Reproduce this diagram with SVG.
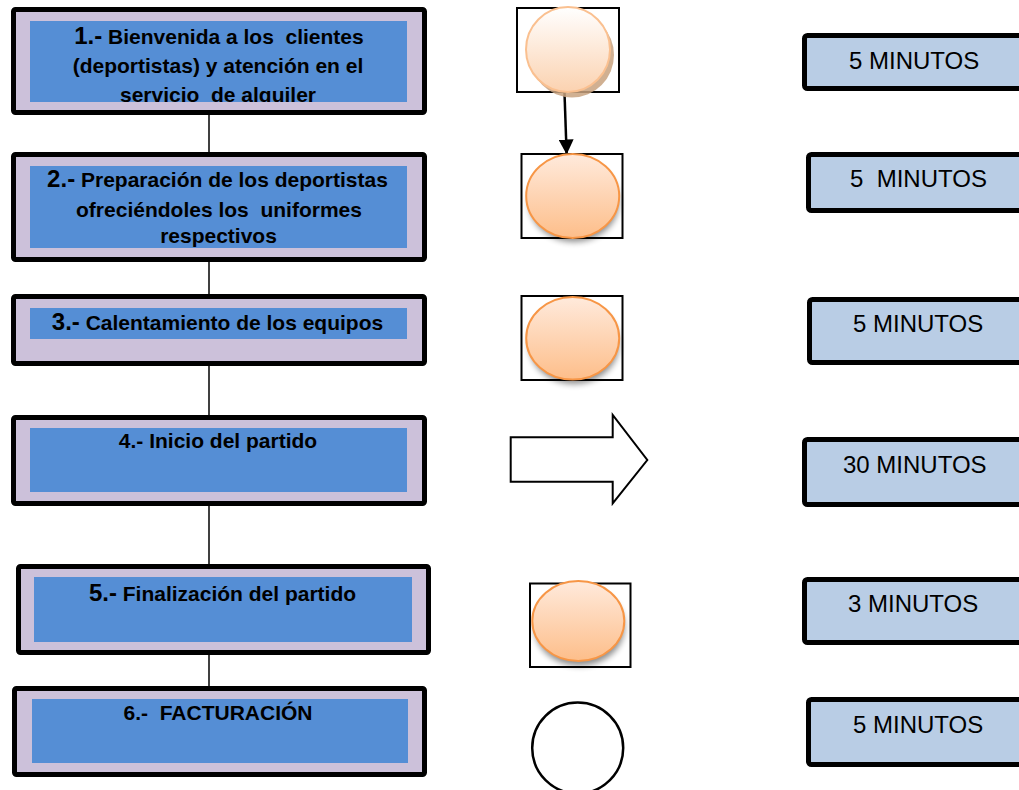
<svg xmlns="http://www.w3.org/2000/svg" width="1019" height="790" viewBox="0 0 1019 790">
  <style>
    text { white-space: pre; }
    .outer { fill: #CCC1DA; stroke: #000; stroke-width: 5; }
    .inner { fill: #558ED5; }
    .step { font-family: "Liberation Sans", Arial, sans-serif; font-weight: bold; font-size: 21px; fill: #000; text-anchor: middle; }
    .num { font-size: 24px; }
    .time-box { fill: #B9CDE5; stroke: #000; stroke-width: 5; }
    .time { font-family: "Liberation Sans", Arial, sans-serif; font-size: 24px; fill: #000; }
    .frame { fill: none; stroke: #000; stroke-width: 2; }
    .op { fill: url(#peach); stroke: #F79646; stroke-width: 2; }
    .link { stroke: #000; stroke-width: 1.5; fill: none; }
  </style>
  <defs>
    <linearGradient id="peach" x1="0" y1="0" x2="0" y2="1">
      <stop offset="0" stop-color="#FFEADC"/>
      <stop offset="1" stop-color="#FDBE8A"/>
    </linearGradient>
    <linearGradient id="pale" x1="0" y1="0" x2="0" y2="1">
      <stop offset="0" stop-color="#FFFFFF"/>
      <stop offset="1" stop-color="#FBD2B0"/>
    </linearGradient>
    <filter id="soft" x="-30%" y="-30%" width="160%" height="170%">
      <feGaussianBlur stdDeviation="3"/>
    </filter>
    <marker id="head" viewBox="0 0 10 10" refX="9" refY="5" markerWidth="6" markerHeight="6" orient="auto" markerUnits="strokeWidth">
      <path d="M0,0 L10,5 L0,10 Z" fill="#000"/>
    </marker>
    <clipPath id="clip1">
      <rect x="30" y="21" width="377" height="81"/>
    </clipPath>
  </defs>

  <!-- vertical links between the steps -->
  <g id="connectors">
    <line class="link" x1="209" y1="115" x2="209" y2="152"/>
    <line class="link" x1="209" y1="262" x2="209" y2="294"/>
    <line class="link" x1="209" y1="366" x2="209" y2="415"/>
    <line class="link" x1="209" y1="506" x2="209" y2="564"/>
    <line class="link" x1="209" y1="655" x2="209" y2="686"/>
    <line x1="564.5" y1="93" x2="566.6" y2="153" stroke="#000" stroke-width="2.5" marker-end="url(#head)"/>
  </g>

  <!-- process steps -->
  <g id="step1">
    <rect class="outer" x="13.5" y="9.5" width="411" height="103" rx="2"/>
    <rect class="inner" x="30" y="21" width="377" height="81"/>
    <g clip-path="url(#clip1)">
      <text class="step" x="219" y="44"><tspan class="num">1.-</tspan> Bienvenida a los  clientes</text>
      <text class="step" x="218" y="73">(deportistas) y atención en el</text>
      <text class="step" x="218" y="102">servicio  de alquiler</text>
    </g>
  </g>
  <g id="step2">
    <rect class="outer" x="13.5" y="154.5" width="411" height="105" rx="2"/>
    <rect class="inner" x="30" y="166" width="377" height="82"/>
    <text class="step" x="217.5" y="187"><tspan class="num">2.-</tspan> Preparación de los deportistas</text>
    <text class="step" x="219" y="217">ofreciéndoles los  uniformes</text>
    <text class="step" x="218.5" y="243">respectivos</text>
  </g>
  <g id="step3">
    <rect class="outer" x="13.5" y="296.5" width="411" height="67" rx="2"/>
    <rect class="inner" x="30" y="308" width="377" height="31"/>
    <text class="step" x="217.5" y="330"><tspan class="num">3.-</tspan> Calentamiento de los equipos</text>
  </g>
  <g id="step4">
    <rect class="outer" x="13.5" y="417.5" width="411" height="86" rx="2"/>
    <rect class="inner" x="30" y="428" width="377" height="64"/>
    <text class="step" x="218" y="448">4.- Inicio del partido</text>
  </g>
  <g id="step5">
    <rect class="outer" x="18.5" y="566.5" width="410" height="86" rx="2"/>
    <rect class="inner" x="34" y="577" width="378" height="65"/>
    <text class="step" x="222.5" y="601"><tspan class="num">5.-</tspan> Finalización del partido</text>
  </g>
  <g id="step6">
    <rect class="outer" x="14.5" y="688.5" width="410" height="86" rx="2"/>
    <rect class="inner" x="32" y="699" width="376" height="64"/>
    <text class="step" x="218" y="720">6.-  FACTURACIÓN</text>
  </g>

  <!-- activity symbols -->
  <g id="symbol1">
    <rect class="frame" x="517" y="8" width="102" height="84"/>
    <ellipse cx="572" cy="55" rx="42" ry="42.5" fill="#C8A27F" opacity="0.85"/>
    <ellipse cx="568" cy="49.5" rx="42" ry="42.5" fill="url(#pale)" stroke="#FAC090" stroke-width="2"/>
  </g>
  <g id="symbol2">
    <rect class="frame" x="521.5" y="154" width="101" height="84"/>
    <ellipse cx="574" cy="202" rx="45" ry="40" fill="#000" opacity="0.45" filter="url(#soft)"/>
    <ellipse class="op" cx="572.7" cy="196" rx="46.5" ry="42"/>
  </g>
  <g id="symbol3">
    <rect class="frame" x="521.5" y="296" width="101" height="84"/>
    <ellipse cx="574" cy="344" rx="45" ry="40" fill="#000" opacity="0.45" filter="url(#soft)"/>
    <ellipse class="op" cx="572.7" cy="338.3" rx="46.5" ry="41.3"/>
  </g>
  <g id="symbol4">
    <polygon points="510.7,437.3 612.7,437.3 612.7,415 647.3,460 612.7,503.3 612.7,481.7 510.7,481.7" fill="#fff" stroke="#000" stroke-width="2"/>
  </g>
  <g id="symbol5">
    <rect class="frame" x="530" y="583.5" width="100.5" height="83.5"/>
    <ellipse cx="579.5" cy="627" rx="45" ry="39" fill="#000" opacity="0.45" filter="url(#soft)"/>
    <ellipse class="op" cx="578.3" cy="621" rx="46" ry="40"/>
  </g>
  <g id="symbol6">
    <circle cx="577.7" cy="748" r="45.5" fill="#fff" stroke="#000" stroke-width="2.5"/>
  </g>

  <!-- durations -->
  <g id="time1">
    <rect class="time-box" x="804.5" y="35.5" width="230" height="53" rx="3"/>
    <text class="time" x="849" y="69">5 MINUTOS</text>
  </g>
  <g id="time2">
    <rect class="time-box" x="808.5" y="154.5" width="230" height="56" rx="3"/>
    <text class="time" x="850" y="187">5  MINUTOS</text>
  </g>
  <g id="time3">
    <rect class="time-box" x="809.5" y="299.5" width="230" height="63" rx="3"/>
    <text class="time" x="853" y="332">5 MINUTOS</text>
  </g>
  <g id="time4">
    <rect class="time-box" x="804.5" y="439.5" width="230" height="65" rx="3"/>
    <text class="time" x="843" y="473">30 MINUTOS</text>
  </g>
  <g id="time5">
    <rect class="time-box" x="804.5" y="579.5" width="230" height="63" rx="3"/>
    <text class="time" x="848" y="612">3 MINUTOS</text>
  </g>
  <g id="time6">
    <rect class="time-box" x="808.5" y="699.5" width="230" height="65" rx="3"/>
    <text class="time" x="853" y="733">5 MINUTOS</text>
  </g>
</svg>
